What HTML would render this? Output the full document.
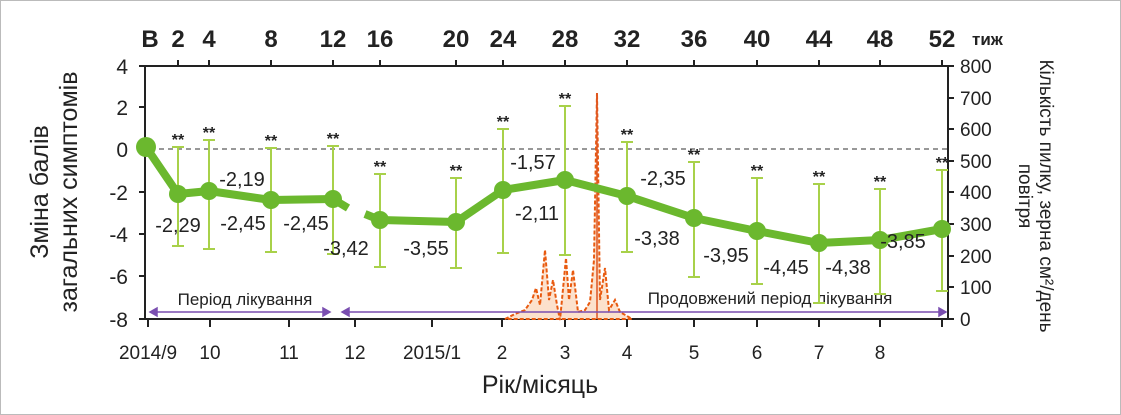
<!DOCTYPE html><html><head><meta charset="utf-8"><style>body{margin:0;background:#fff}svg{display:block}text{font-family:"Liberation Sans","DejaVu Sans",sans-serif;fill:#222}</style></head><body>
<svg width="1121" height="415" viewBox="0 0 1121 415">
<rect x="0.5" y="0.5" width="1120" height="414" fill="#fff" stroke="#bbb"/>
<g font-size="24" text-anchor="middle" font-weight="bold">
<text x="150" y="47">B</text><text x="178" y="47">2</text><text x="209" y="47">4</text><text x="271" y="47">8</text><text x="333" y="47">12</text><text x="380" y="47">16</text><text x="456" y="47">20</text><text x="503" y="47">24</text><text x="565" y="47">28</text><text x="627" y="47">32</text><text x="694" y="47">36</text><text x="757" y="47">40</text><text x="819" y="47">44</text><text x="880" y="47">48</text><text x="942" y="47">52</text></g>
<text x="972" y="45" font-size="17" font-weight="bold">тиж</text>
<g stroke="#222" stroke-width="2" fill="none"><path d="M140 66H948M145 66V319M948 66V319M140 319H948"/>
<path d="M178 60V66M209 60V66M271 60V66M333 60V66M380 60V66M456 60V66M503 60V66M565 60V66M627 60V66M694 60V66M757 60V66M819 60V66M880 60V66M942 60V66"/>
<path d="M139 66H145M139 107H145M139 149H145M139 192H145M139 234H145M139 276H145M139 319H145"/>
<path d="M948 66H954M948 98H954M948 129H954M948 161H954M948 192H954M948 224H954M948 256H954M948 287H954M948 319H954"/>
<path d="M148 319V327M210 319V327M289 319V327M355 319V327M432 319V327M502 319V327M565 319V327M627 319V327M694 319V327M757 319V327M819 319V327M880 319V327M942 319V327"/></g>
<g font-size="21" text-anchor="end"><text x="128" y="74">4</text><text x="128" y="115">2</text><text x="128" y="157">0</text><text x="128" y="200">-2</text><text x="128" y="242">-4</text><text x="128" y="284">-6</text><text x="128" y="327">-8</text></g>
<g font-size="19"><text x="960" y="73">800</text><text x="960" y="105">700</text><text x="960" y="136">600</text><text x="960" y="168">500</text><text x="960" y="199">400</text><text x="960" y="231">300</text><text x="960" y="263">200</text><text x="960" y="294">100</text><text x="960" y="326">0</text></g>
<g font-size="19" text-anchor="middle"><text x="148" y="359">2014/9</text><text x="210" y="359">10</text><text x="289" y="359">11</text><text x="355" y="359">12</text><text x="432" y="359">2015/1</text><text x="502" y="359">2</text><text x="565" y="359">3</text><text x="627" y="359">4</text><text x="694" y="359">5</text><text x="757" y="359">6</text><text x="819" y="359">7</text><text x="880" y="359">8</text></g>
<text x="540" y="393" font-size="25" text-anchor="middle">Рік/місяць</text>
<text transform="translate(48,192) rotate(-90)" font-size="25" text-anchor="middle">Зміна балів</text>
<text transform="translate(77,192) rotate(-90)" font-size="25" text-anchor="middle">загальних симптомів</text>
<text transform="translate(1040,196) rotate(90)" font-size="19" text-anchor="middle">Кількість пилку, зерна см²/день</text>
<text transform="translate(1019,196) rotate(90)" font-size="19" text-anchor="middle">повітря</text>
<path d="M150 149H948" stroke="#777" stroke-dasharray="5,4" stroke-width="1.5"/>
<path d="M505 319L515 314L525 310L532 300L536 288L540 305L545 250L549 300L553 280L557 305L560 320L566 258L569 300L573 270L578 312L585 310L590 302L594 260L597 93L600 300L605 268L609 310L615 300L620 312L627 316L632 319Z" fill="#fce1cc" stroke="#e85a10" stroke-width="2" stroke-dasharray="4,2"/>
<path d="M597 93V319" stroke="#d52" stroke-width="1.5"/>
<g stroke="#7a4fb0" stroke-width="1.5" fill="#7a4fb0"><path d="M150 312H330M342 312H946"/><path d="M150 312l7-4v8zM330 312l-7-4v8zM342 312l7-4v8zM946 312l-7-4v8z"/></g>
<text x="245" y="305" font-size="17" text-anchor="middle">Період лікування</text>
<text x="770" y="304" font-size="17" text-anchor="middle">Продовжений період лікування</text>
<g stroke="#a8d14a" stroke-width="2" fill="none">
<path d="M178 147V246M172 147H184M172 246H184"/><path d="M209 140V249M203 140H215M203 249H215"/><path d="M271 148V252M265 148H277M265 252H277"/><path d="M333 146V254M327 146H339M327 254H339"/><path d="M380 174V267M374 174H386M374 267H386"/><path d="M456 178V268M450 178H462M450 268H462"/><path d="M503 129V253M497 129H509M497 253H509"/><path d="M565 106V255M559 106H571M559 255H571"/><path d="M627 142V252M621 142H633M621 252H633"/><path d="M694 162V277M688 162H700M688 277H700"/><path d="M757 178V284M751 178H763M751 284H763"/><path d="M819 184V303M813 184H825M813 303H825"/><path d="M880 189V294M874 189H886M874 294H886"/><path d="M942 170V291M936 170H948M936 291H948"/></g>
<g font-size="16" font-weight="bold" text-anchor="middle"><text x="178" y="145">**</text><text x="209" y="138">**</text><text x="271" y="146">**</text><text x="333" y="144">**</text><text x="380" y="172">**</text><text x="456" y="176">**</text><text x="503" y="127">**</text><text x="565" y="104">**</text><text x="627" y="140">**</text><text x="694" y="160">**</text><text x="757" y="176">**</text><text x="819" y="182">**</text><text x="880" y="187">**</text><text x="942" y="168">**</text></g>
<g stroke="#6bb82e" stroke-width="8" fill="none" stroke-linejoin="round"><path d="M146 147L178 194L209 191L271 200L333 199L348 208"/><path d="M365 214L380 220L456 222L503 190L565 180L627 196L694 218L757 231L819 243L880 240L942 229"/></g>
<g fill="#6bb82e"><circle cx="146" cy="147" r="10"/><circle cx="178" cy="194" r="9"/><circle cx="209" cy="191" r="9"/><circle cx="271" cy="200" r="9"/><circle cx="333" cy="199" r="9"/><circle cx="380" cy="220" r="9"/><circle cx="456" cy="222" r="9"/><circle cx="503" cy="190" r="9"/><circle cx="565" cy="180" r="9"/><circle cx="627" cy="196" r="9"/><circle cx="694" cy="218" r="9"/><circle cx="757" cy="231" r="9"/><circle cx="819" cy="243" r="9"/><circle cx="880" cy="240" r="9"/><circle cx="942" cy="229" r="9"/></g>
<g font-size="20" text-anchor="middle"><text x="178" y="232">-2,29</text><text x="242" y="186">-2,19</text><text x="243" y="230">-2,45</text><text x="306" y="230">-2,45</text><text x="346" y="255">-3,42</text><text x="426" y="255">-3,55</text><text x="533" y="169">-1,57</text><text x="537" y="220">-2,11</text><text x="663" y="185">-2,35</text><text x="657" y="245">-3,38</text><text x="726" y="262">-3,95</text><text x="786" y="274">-4,45</text><text x="848" y="274">-4,38</text><text x="903" y="248">-3,85</text></g>
</svg></body></html>
